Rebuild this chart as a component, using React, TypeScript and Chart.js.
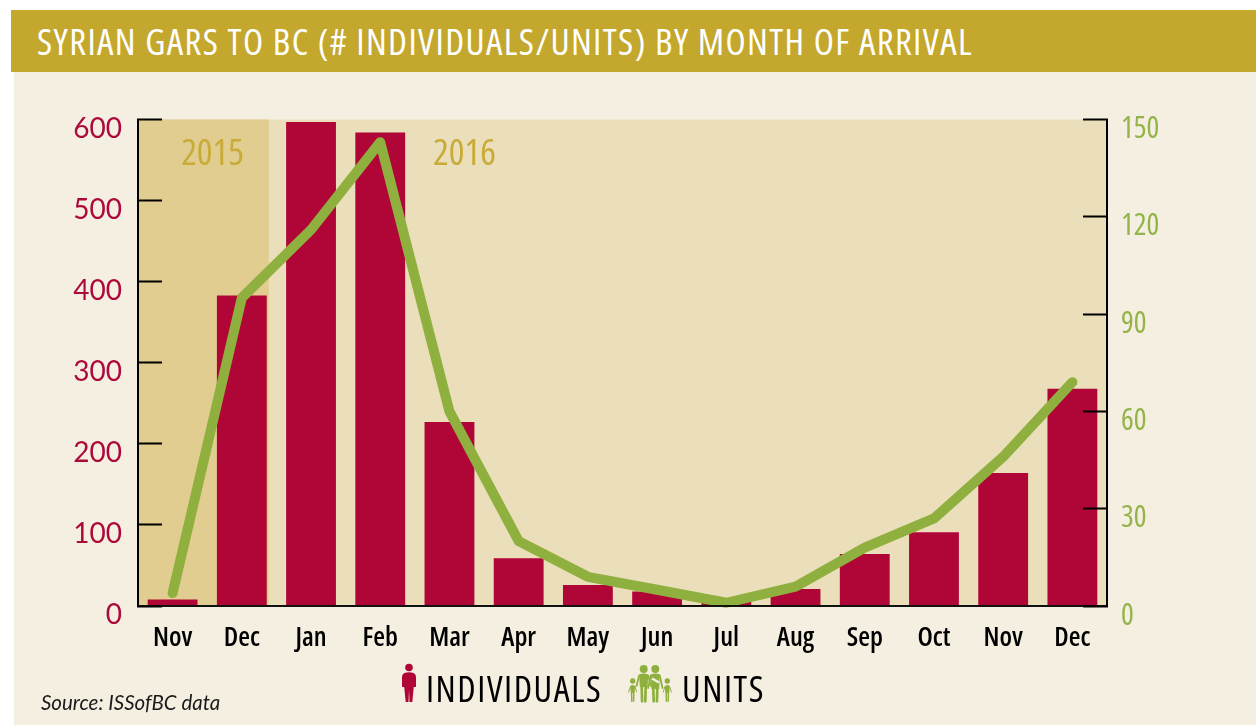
import React, { useEffect, useRef } from "react";
import { Chart, registerables } from "chart.js";

Chart.register(...registerables);

const months = ["Nov", "Dec", "Jan", "Feb", "Mar", "Apr", "May", "Jun", "Jul", "Aug", "Sep", "Oct", "Nov", "Dec"];
const individuals = [8, 383, 597, 584, 227, 59, 26, 18, 7, 21, 64, 91, 164, 268];
const units = [4, 95, 116, 143, 60, 20, 9, 5, 1, 6, 18, 27, 46, 69];
const titleText = "SYRIAN GARS TO BC (# INDIVIDUALS/UNITS) BY MONTH OF ARRIVAL";
const sourceText = "Source: ISSofBC data";

const RED = "#b00537";
const GREEN = "#8fb03e";
const PAGE = "#f5efe2";
const OPEN = '"Open Sans"';

const bandPlugin = {
  id: "bands",
  beforeDatasetsDraw(chart: any) {
    const { ctx, chartArea: a, scales } = chart;
    const split = scales.x.getPixelForValue(1) + 27;
    ctx.save();
    ctx.fillStyle = "#eadfba";
    ctx.fillRect(a.left, a.top, a.right - a.left, a.bottom - a.top);
    ctx.fillStyle = "#e1cd90";
    ctx.fillRect(a.left, a.top, split - a.left, a.bottom - a.top);
    ctx.fillStyle = "#c9ab37";
    ctx.font = `condensed 37px ${OPEN}`;
    ctx.textBaseline = "middle";
    ctx.textAlign = "center";
    ctx.fillText("2015", scales.x.getPixelForValue(0) + 40, a.top + 35);
    ctx.fillText("2016", scales.x.getPixelForValue(4) + 15, a.top + 35);
    ctx.restore();
  },
};

function PersonIcon({ color }: { color: string }) {
  return (
    <svg width="16" height="40" viewBox="0 0 16 40" style={{ position: "absolute", left: 401, top: 663 }}>
      <circle cx="8" cy="4.5" r="3.8" fill={color} />
      <path d="M3.5 10 Q8 8.5 12.5 10 Q15 11 15 14 L15 24 L12.8 24 L11.3 39 L8.5 39 L8 27 L7.5 39 L4.7 39 L3.2 24 L1 24 L1 14 Q1 11 3.5 10Z" fill={color} />
    </svg>
  );
}

function FamilyIcon({ color }: { color: string }) {
  const person = (cx: number, headY: number, r: number, top: number, w: number, hip: number, key: number) => (
    <g key={key} fill={color} stroke={color} strokeLinecap="round">
      <circle cx={cx} cy={headY} r={r} stroke="none" />
      <path d={`M${cx - w / 2} ${top + 1} Q${cx} ${top - 1} ${cx + w / 2} ${top + 1} L${cx + w / 2 - 0.6} ${hip} H${cx - w / 2 + 0.6}Z`} stroke="none" />
      <line x1={cx - w * 0.22} y1={hip} x2={cx - w * 0.18} y2={36.3} strokeWidth={w * 0.3} />
      <line x1={cx + w * 0.22} y1={hip} x2={cx + w * 0.18} y2={36.3} strokeWidth={w * 0.3} />
      <line x1={cx - w / 2} y1={top + 2} x2={cx - w * 0.8} y2={hip - 1} strokeWidth={w * 0.2} />
      <line x1={cx + w / 2} y1={top + 2} x2={cx + w * 0.8} y2={hip - 1} strokeWidth={w * 0.2} />
    </g>
  );
  return (
    <svg width="46" height="38" viewBox="0 0 46 38" style={{ position: "absolute", left: 628, top: 665 }}>
      {person(4.7, 16, 2.7, 20, 5, 28, 0)}
      {person(39.3, 16, 2.7, 20, 5, 28, 1)}
      {person(15.7, 4, 4, 8.5, 9, 22, 2)}
      {person(27.3, 4, 4, 8.5, 9, 24, 3)}
      <line x1="24" y1="13.5" x2="31" y2="17.5" stroke={PAGE} strokeWidth="2.4" />
    </svg>
  );
}

export default function App() {
  const ref = useRef<HTMLCanvasElement | null>(null);

  useEffect(() => {
    if (!ref.current) return;
    const chart = new Chart(ref.current, {
      type: "bar",
      plugins: [bandPlugin],
      data: {
        labels: months,
        datasets: [
          {
            type: "line",
            label: "UNITS",
            data: units,
            yAxisID: "y1",
            borderColor: GREEN,
            borderWidth: 10,
            pointRadius: 0,
            tension: 0,
            borderCapStyle: "round",
            borderJoinStyle: "round",
            clip: false,
            order: 1,
          } as any,
          {
            type: "bar",
            label: "INDIVIDUALS",
            data: individuals,
            yAxisID: "y",
            backgroundColor: RED,
            barPercentage: 0.72,
            categoryPercentage: 1,
            order: 2,
          } as any,
        ],
      },
      options: {
        responsive: false,
        animation: false,
        layout: { padding: { left: 0, right: 0, top: 119.5, bottom: 0 } },
        plugins: { legend: { display: false }, title: { display: false }, tooltip: { enabled: false } },
        scales: {
          x: {
            offset: true,
            afterFit: (s: any) => { s.height = 119; },
            grid: { display: false, drawTicks: false },
            border: { display: true, color: "#111", width: 2, z: 1 },
            ticks: {
              color: "#000",
              font: { family: OPEN, size: 27, weight: "600 condensed" },
              padding: 16,
              autoSkip: false,
              minRotation: 0,
              maxRotation: 0,
            },
          },
          y: {
            position: "left",
            min: 0,
            max: 600,
            afterFit: (s: any) => { s.width = 138; },
            grid: { drawOnChartArea: false, tickLength: -24, tickWidth: 2, tickColor: "#000", z: 1 },
            border: { display: true, color: "#000", width: 2, z: 1 },
            ticks: {
              stepSize: 100,
              color: "#ad0a3c",
              font: { family: "Lato", size: 28 },
              padding: 40,
              labelOffset: 9,
              autoSkip: false,
            },
          },
          y1: {
            position: "right",
            min: 0,
            max: 150,
            afterFit: (s: any) => { s.width = 149; },
            grid: { drawOnChartArea: false, tickLength: -24, tickWidth: 2, tickColor: "#000", z: 1 },
            border: { display: true, color: "#000", width: 2, z: 1 },
            ticks: {
              stepSize: 30,
              color: "#93b448",
              font: { family: OPEN, size: 30, weight: "condensed" },
              padding: 38,
              labelOffset: 10,
              autoSkip: false,
            },
          },
        },
      } as any,
    });
    return () => chart.destroy();
  }, []);

  const textStyle: React.CSSProperties = {
    position: "absolute", top: 668, fontFamily: OPEN, fontStretch: "condensed", fontSize: 36, fontWeight: 500,
    lineHeight: "42px", color: "#000", whiteSpace: "nowrap", letterSpacing: 1.55,
  };

  return (
    <div style={{ position: "absolute", left: 0, top: 0, width: 1256, height: 725, overflow: "hidden", background: "#fff" }}>
      <div style={{ position: "absolute", left: 14, top: 72, width: 1242, height: 653, background: PAGE }} />
      <div
        style={{
          position: "absolute", left: 11, top: 10, width: 1245, height: 62, background: "#c4a72d",
          color: "#fff", fontFamily: OPEN, fontStretch: "condensed", fontSize: 37, lineHeight: "62px", paddingLeft: 26,
          boxSizing: "border-box", whiteSpace: "nowrap", letterSpacing: 1.4,
        }}
      >
        {titleText}
      </div>
      <canvas ref={ref} width={1256} height={725} style={{ position: "absolute", left: 0, top: 0, display: "block" }} />
      <PersonIcon color={RED} />
      <div style={{ ...textStyle, left: 426 }}>INDIVIDUALS</div>
      <FamilyIcon color={GREEN} />
      <div style={{ ...textStyle, left: 682 }}>UNITS</div>
      <div style={{ position: "absolute", left: 41, top: 689, fontFamily: "Lato, sans-serif", fontStyle: "italic", fontSize: 20.5, lineHeight: "26px", color: "#1a1a1a", whiteSpace: "nowrap" }}>{sourceText}</div>
    </div>
  );
}
